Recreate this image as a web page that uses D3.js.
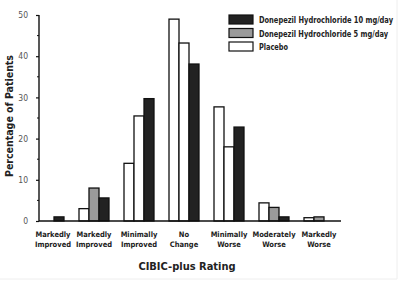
<!DOCTYPE html>
<html lang="en">
<head>
<meta charset="utf-8"/>
<title>CIBIC-plus Rating</title>
<script src="https://d3js.org/d3.v7.min.js"></script>
<style>
  body { margin: 0; background: #fff; }
  text { font-family: "DejaVu Sans Condensed", "DejaVu Sans", sans-serif; font-stretch: condensed; font-weight: bold; fill: #222; }
  .axis text { font-weight: normal; fill: #555; }
</style>
</head>
<body>
<svg id="chart" width="400" height="281"></svg>
<script>
// categories (two lines each) and series values in percent
var categories = [
  ["Markedly", "Improved"],
  ["Markedly", "Improved"],
  ["Minimally", "Improved"],
  ["No", "Change"],
  ["Minimally", "Worse"],
  ["Moderately", "Worse"],
  ["Markedly", "Worse"]
];
var placebo = [0, 3, 14, 49, 27.7, 4.4, 0.8];
var dose5 = [0, 8, 25.5, 43.2, 18, 3.3, 1];
var dose10 = [1, 5.6, 29.7, 38.1, 22.8, 1, 0];
var yTicks = [0, 10, 20, 30, 40, 50];

var series = [
  {key: "Placebo", values: placebo, fill: "#fff", w: 29},
  {key: "Donepezil Hydrochloride 5 mg/day", values: dose5, fill: "#9a9a9a", w: 129},
  {key: "Donepezil Hydrochloride 10 mg/day", values: dose10, fill: "#222", w: 134}
];
// in the scan the 5 mg bars of these groups print unfilled
var unfilled5 = [2, 3, 4];

var svg = d3.select("#chart");

var x = d3.scaleBand()
  .domain(d3.range(categories.length))
  .range([26.5, 341.5])
  .paddingInner(1 / 3)
  .paddingOuter(1 / 6);
var xs = d3.scaleBand()
  .domain(d3.range(series.length))
  .range([0, x.bandwidth()]);
var y = d3.scaleLinear().domain([0, 50]).range([221, 15]);

// bars
var g = svg.append("g");
series.forEach(function(s, si) {
  var data = s.values.map(function(v, i) { return {v: v, i: i}; })
    .filter(function(d) { return d.v > 0; });
  g.selectAll(null)
    .data(data)
    .enter().append("rect")
      .attr("x", function(d) { return x(d.i) + xs(si); })
      .attr("y", function(d) { return y(d.v); })
      .attr("width", xs.bandwidth())
      .attr("height", function(d) { return y(0) - y(d.v); })
      .attr("fill", function(d) { return (si === 1 && unfilled5.indexOf(d.i) >= 0) ? "#fff" : s.fill; })
      .attr("stroke", "#111")
      .attr("stroke-width", 1.3);
});

// y axis
var yAxis = svg.append("g")
  .attr("class", "axis")
  .attr("transform", "translate(39,0)")
  .call(d3.axisLeft(y).tickValues(yTicks).tickSize(3).tickPadding(8));
yAxis.select(".domain").attr("stroke", "#111").attr("stroke-width", 1.4).attr("d", "M0," + y(50) + "V" + y(0));
yAxis.selectAll(".tick line").attr("stroke", "#111").attr("stroke-width", 1.2);
yAxis.selectAll("text").attr("font-size", 8.5);
// minor ticks
svg.append("g").selectAll("line")
  .data(d3.range(5, 50, 10))
  .enter().append("line")
    .attr("x1", 37).attr("x2", 39)
    .attr("y1", function(d) { return y(d); })
    .attr("y2", function(d) { return y(d); })
    .attr("stroke", "#111").attr("stroke-width", 1);

// baseline
svg.append("line")
  .attr("x1", 39).attr("x2", 341)
  .attr("y1", y(0)).attr("y2", y(0))
  .attr("stroke", "#111").attr("stroke-width", 1.4);

// category labels
function labX(d, i) { return x(i) + x.bandwidth() / 2 + (i === 0 ? 4 : 0); }
var lab = svg.append("g").selectAll("text")
  .data(categories)
  .enter().append("text")
    .attr("text-anchor", "middle")
    .attr("font-size", 7.5)
    .attr("y", 237);
lab.append("tspan").attr("x", labX).text(function(d) { return d[0]; });
lab.append("tspan").attr("x", labX).attr("dy", 10).text(function(d) { return d[1]; });

// axis titles
svg.append("text")
  .attr("transform", "translate(13,116) rotate(-90)")
  .attr("text-anchor", "middle")
  .attr("font-size", 10.5)
  .text("Percentage of Patients");
svg.append("text")
  .attr("x", 187).attr("y", 270)
  .attr("text-anchor", "middle")
  .attr("font-size", 11)
  .text("CIBIC-plus Rating");

// legend
var legend = svg.append("g").selectAll("g")
  .data(series.slice().reverse())
  .enter().append("g")
    .attr("transform", function(d, i) { return "translate(229," + (15 + i * 13.5) + ")"; });
legend.append("rect")
  .attr("width", 24).attr("height", 9)
  .attr("fill", function(d) { return d.fill; })
  .attr("stroke", "#111").attr("stroke-width", 1.2);
legend.append("text")
  .attr("x", 30).attr("y", 8)
  .attr("font-size", 9)
  .attr("textLength", function(d) { return d.w; })
  .attr("lengthAdjust", "spacingAndGlyphs")
  .text(function(d) { return d.key; });

// faint frame edge of the scan
svg.append("line").attr("x1", 397).attr("x2", 397).attr("y1", 0).attr("y2", 279).attr("stroke", "#eee");
svg.append("line").attr("x1", 0).attr("x2", 397).attr("y1", 279).attr("y2", 279).attr("stroke", "#eee");
</script>
</body>
</html>
